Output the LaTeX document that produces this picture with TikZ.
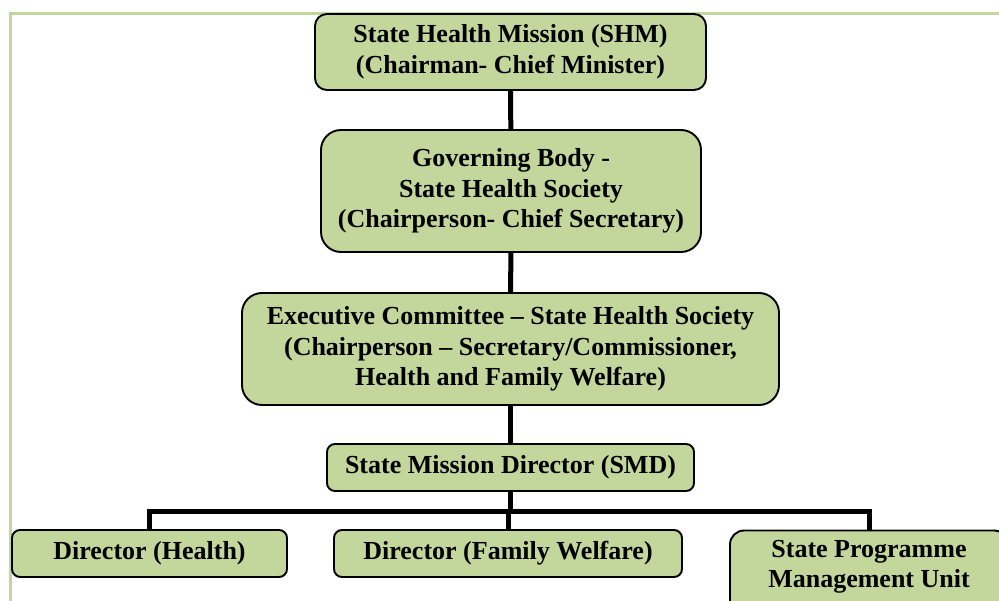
\documentclass[tikz,border=0pt]{standalone}
\usepackage{fontspec}
\setmainfont{Liberation Serif}
\usetikzlibrary{positioning}
\definecolor{shmGreen}{HTML}{C3D69B}
\definecolor{shmFrame}{HTML}{C3D69B}
\tikzset{
  shm frame/.style={draw=shmFrame, line width=2.2pt},
  shm box/.style={draw=black, fill=shmGreen, line width=1.9pt, align=center, inner sep=0pt,
    font=\fontsize{26}{30.5}\selectfont\bfseries},
  shm link/.style={draw=black, line width=5pt},
}

\begin{document}
\begin{tikzpicture}[x=1pt, y=-1pt]
  \useasboundingbox (0,0) rectangle (999,601);
  \clip (0,0) rectangle (999,601);

  % Page frame behind the chart
  \draw[shm frame] (10.5,620) -- (10.5,13.5) -- (1020,13.5);

  % Top of the chain
  \node[shm box, rounded corners=12pt, minimum width=391pt, minimum height=76pt] (shm) at (510.5,52)
    {State Health Mission (SHM)\\(Chairman- Chief Minister)};
  \node[shm box, rounded corners=20pt, minimum width=380pt, minimum height=122pt] (gb) at (511,191)
    {Governing Body -\\State Health Society\\(Chairperson- Chief Secretary)};
  \node[shm box, rounded corners=20pt, minimum width=537pt, minimum height=112pt] (ec) at (510.5,349)
    {Executive Committee -- State Health Society\\(Chairperson -- Secretary/Commissioner,\\Health and Family Welfare)};
  \node[shm box, rounded corners=8pt, minimum width=367pt, minimum height=47pt] (smd) at (510.5,467.5)
    {State Mission Director (SMD)};

  % Bottom row
  \node[shm box, rounded corners=8pt, minimum width=275pt, minimum height=47pt] (dh) at (149.5,553.5)
    {Director (Health)};
  \node[shm box, rounded corners=8pt, minimum width=348pt, minimum height=47pt] (dfw) at (508,553.5)
    {Director (Family Welfare)};
  \node[shm box, rounded corners=14pt, minimum width=278pt, minimum height=89pt, text depth=22pt] (spmu) at (869,575)
    {State Programme\\Management Unit};

  % Connectors
  \coordinate (bar) at (510.5,511);
  \draw[shm link] (shm) -- (gb);
  \draw[shm link] (gb) -- (ec);
  \draw[shm link] (ec) -- (smd);
  \draw[shm link] (smd) -- (bar);
  \draw[shm link] (dh.north) |- (bar) -| (spmu.north);
  \draw[shm link] (dfw.north |- bar) -- (dfw.north);
\end{tikzpicture}
\end{document}
